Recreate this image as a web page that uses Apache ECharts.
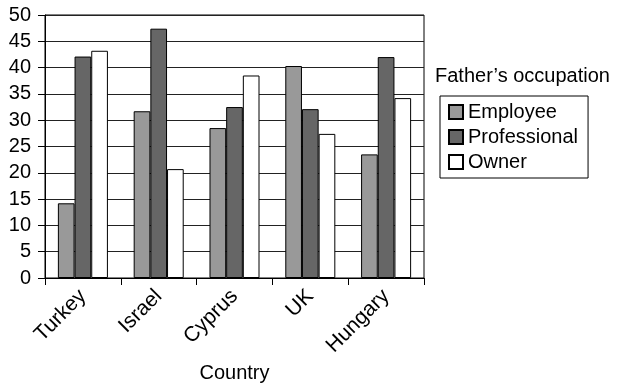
<!DOCTYPE html>
<html>
<head>
<meta charset="utf-8">
<script src="https://cdn.jsdelivr.net/npm/echarts@6/dist/echarts.min.js"></script>
<style>
  html, body { margin: 0; padding: 0; background: #fff; }
  #chart { width: 618px; height: 383px; }
</style>
</head>
<body>
<div id="chart"></div>
<script>
// Share of respondents by father's occupation, per country
const countries = ['Turkey', 'Israel', 'Cyprus', 'UK', 'Hungary'];
const employee = [14.2, 31.7, 28.5, 40.3, 23.5];
const professional = [42.1, 47.4, 32.5, 32.1, 42.0];
const owner = [43.2, 20.7, 38.5, 27.4, 34.2];
const yTicks = [0, 5, 10, 15, 20, 25, 30, 35, 40, 45, 50];

const FONT = '"Liberation Sans", Arial, Helvetica, sans-serif';
const FS = 20;
const chart = echarts.init(document.getElementById('chart'), null, { renderer: 'canvas' });

const barStyle = (fill) => ({ color: fill, borderColor: '#000', borderWidth: 1 });

chart.setOption({
  animation: false,
  backgroundColor: '#fff',
  textStyle: { fontFamily: FONT, color: '#000' },
  grid: {
    left: 45, right: 194, top: 15, bottom: 105,
    outerBoundsMode: 'none', containLabel: false,
    show: true, borderColor: '#000', borderWidth: 1, backgroundColor: 'transparent'
  },
  graphic: [{
    type: 'text', left: 435, top: 66,
    style: { text: 'Father\u2019s occupation', font: FS + 'px ' + FONT, fill: '#000' }
  }],
  legend: {
    orient: 'vertical', left: 440, top: 96,
    padding: [6, 10, 6, 8],
    itemWidth: 14, itemHeight: 14, itemGap: 5,
    borderColor: '#000', borderWidth: 1,
    icon: 'rect',
    textStyle: { fontFamily: FONT, fontSize: FS, color: '#000' },
    data: ['Employee', 'Professional', 'Owner']
  },
  xAxis: {
    type: 'category',
    data: countries,
    name: 'Country', nameLocation: 'middle', nameGap: 84,
    nameTextStyle: { fontFamily: FONT, fontSize: FS, color: '#000' },
    axisLine: { lineStyle: { color: '#000', width: 1 } },
    axisTick: { show: true, length: 7, lineStyle: { color: '#000' } },
    axisLabel: { rotate: 45, fontFamily: FONT, fontSize: 21, color: '#000', margin: 15 },
    splitLine: { show: false }
  },
  yAxis: {
    type: 'value',
    min: yTicks[0], max: yTicks[yTicks.length - 1], interval: yTicks[1] - yTicks[0],
    axisLine: { show: true, lineStyle: { color: '#000', width: 1 } },
    axisTick: { show: true, length: 7, lineStyle: { color: '#000' } },
    axisLabel: { fontFamily: FONT, fontSize: FS, color: '#000', margin: 14 },
    splitLine: { show: true, lineStyle: { color: '#222', width: 1 } }
  },
  series: [
    { name: 'Employee', type: 'bar', data: employee, barGap: '0%', barCategoryGap: '34%', itemStyle: barStyle('#999999') },
    { name: 'Professional', type: 'bar', data: professional, itemStyle: barStyle('#666666') },
    { name: 'Owner', type: 'bar', data: owner, itemStyle: barStyle('#ffffff') }
  ]
});
</script>
</body>
</html>
